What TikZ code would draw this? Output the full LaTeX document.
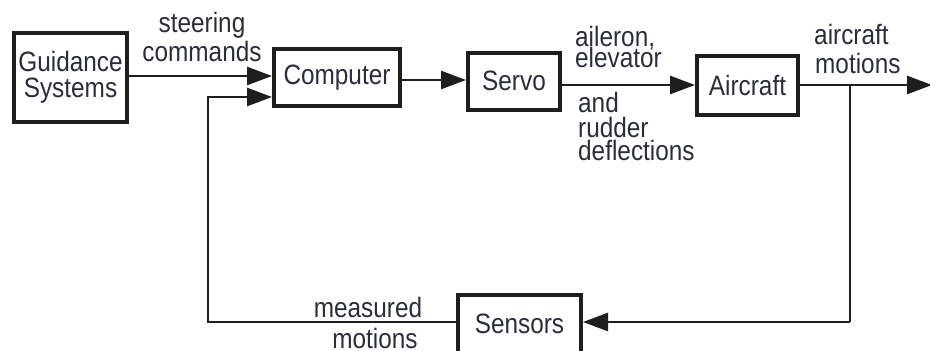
\documentclass[tikz,border=0pt]{standalone}
\usepackage{fontspec}
\setmainfont{Liberation Sans}[FakeStretch=0.87]
\usetikzlibrary{arrows.meta}
\definecolor{ink}{HTML}{1E1E1E}
\definecolor{txt}{HTML}{2B2E36}
\tikzset{
  blk/.style={draw=ink, line width=4pt, fill=white, inner sep=0pt,
    font=\fontsize{28}{26}\selectfont, text=txt, align=center},
  lbl/.style={font=\fontsize{28}{26}\selectfont, text=txt, inner sep=0pt},
  flow/.style={draw=ink, line width=2.6pt,
    -{Triangle[length=25pt,width=18pt]}},
  wire/.style={draw=ink, line width=2.6pt},
}
\begin{document}
\begin{tikzpicture}[x=1pt,y=-1pt]
\useasboundingbox (0,0) rectangle (930,351);
\clip (0,0) rectangle (930,351);

% blocks
\node[blk, minimum width=113pt, minimum height=89pt] (guid) at (70.5,77.5) {Guidance\\Systems};
\node[blk, minimum width=126pt, minimum height=57pt] (comp) at (337,77.5) {Computer};
\node[blk, minimum width=92pt,  minimum height=57pt] (servo) at (514,81.3) {Servo};
\node[blk, minimum width=101pt, minimum height=59pt] (plane) at (747.5,85.5) {Aircraft};
\node[blk, minimum width=123pt, minimum height=58pt] (sens) at (519.5,324) {Sensors};

% junction points
\coordinate (inA) at (comp.west |- 0,76);
\coordinate (inB) at (comp.west |- 0,97);
\coordinate (fbL) at (208,322);
\coordinate (fbT) at (208,97);
\coordinate (tap) at (850,85);
\coordinate (tapB) at (850,322);
\coordinate (out) at (932,85);

% forward path
\draw[flow] (guid.east |- inA) -- (inA);
\draw[flow] (comp.east |- 0,80) -- (servo.west |- 0,80);
\draw[flow] (servo.east |- 0,85) -- (plane.west |- 0,85);
\draw[flow] (plane.east |- tap) -- (out);

% feedback path
\draw[wire] (tap) -- (tapB);
\draw[flow] (tapB) -- (sens.east |- tapB);
\draw[wire] (sens.west |- fbL) -- (fbL) -- (fbT) -- ([xshift=-25pt]inB);
\draw[flow] (fbT) -- (inB);

% signal labels
\node[lbl, anchor=base] (st1) at (202,32) {steering};
\node[lbl, anchor=base] (st2) at (202,61) {commands};
\node[lbl, anchor=base west] (ai1) at (575,46) {aileron,};
\node[lbl, anchor=base west] (ai2) at (575,67) {elevator};
\node[lbl, anchor=base west] (ru1) at (578,112) {and};
\node[lbl, anchor=base west] (ru2) at (578,137) {rudder};
\node[lbl, anchor=base west] (ru3) at (578,160) {deflections};
\node[lbl, anchor=base west] (am1) at (814,44) {aircraft};
\node[lbl, anchor=base west] (am2) at (815,73) {motions};
\node[lbl, anchor=base] (mm1) at (368,317) {measured};
\node[lbl, anchor=base] (mm2) at (375,348) {motions};
\end{tikzpicture}
\end{document}
